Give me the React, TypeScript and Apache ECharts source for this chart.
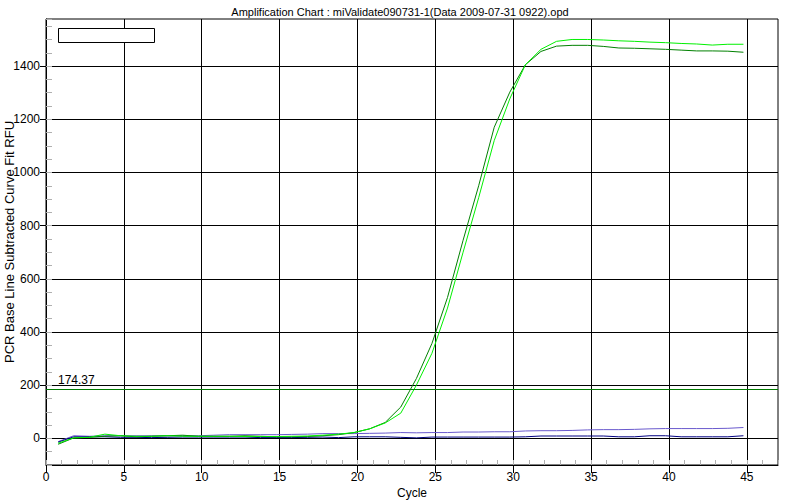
import React, { useEffect, useRef } from "react";
import * as echarts from "echarts";

const TITLE = "Amplification Chart : miValidate090731-1(Data 2009-07-31 0922).opd";
const X_NAME = "Cycle";
const Y_NAME = "PCR Base Line Subtracted Curve Fit RFU";

const CYCLES = [
  0.78, 1.78, 2.78, 3.78, 4.78, 5.78, 6.78, 7.78, 8.78, 9.78,
  10.78, 11.78, 12.78, 13.78, 14.78, 15.78, 16.78, 17.78, 18.78, 19.78,
  20.78, 21.78, 22.78, 23.78, 24.78, 25.78, 26.78, 27.78, 28.78, 29.78,
  30.78, 31.78, 32.78, 33.78, 34.78, 35.78, 36.78, 37.78, 38.78, 39.78,
  40.78, 41.78, 42.78, 43.78, 44.78,
];

const BRIGHT_GREEN = [
  -18, 2, 4, 16, 10, 8, 8, 10, 8, 8,
  8, 8, 7, 7, 7, 8, 9, 12, 16, 22,
  36, 58, 95, 200, 320, 490, 700, 905, 1120, 1277,
  1405, 1463, 1493, 1500, 1500, 1498, 1495, 1493, 1490, 1488,
  1485, 1483, 1479, 1482, 1482,
];

const DARK_GREEN = [
  -22, 2, 4, 8, 10, 6, 8, 10, 12, 8,
  8, 8, 10, 8, 6, 6, 7, 10, 14, 22,
  36, 60, 118, 225, 357, 530, 745, 950, 1170, 1302,
  1405, 1455, 1475, 1478, 1478, 1474, 1468, 1467, 1465, 1463,
  1460, 1457, 1457, 1456, 1452,
];

const BLUE = [
  -12, 10, 8, 10, 10, 10, 10, 10, 10, 10,
  12, 14, 14, 14, 14, 15, 16, 18, 18, 18,
  19, 20, 22, 21, 22, 22, 24, 24, 25, 25,
  28, 29, 29, 30, 32, 33, 33, 34, 36, 37,
  37, 37, 37, 38, 41,
];

const NAVY = [
  -14, 6, 6, 6, 4, 4, 3, 4, 5, 5,
  5, 5, 5, 3, 3, 3, 4, 5, 3, 6,
  6, 6, 4, 2, 5, 5, 5, 5, 5, 5,
  6, 9, 9, 9, 9, 9, 6, 6, 10, 10,
  6, 6, 6, 6, 10,
];

const X_TICKS = [0, 5, 10, 15, 20, 25, 30, 35, 40, 45];
const Y_TICKS = [0, 200, 400, 600, 800, 1000, 1200, 1400];
const X_MIN = 0;
const X_MAX = 47;
const Y_MIN = -100;
const Y_MAX = 1577;
const THRESHOLD_VALUE = 184;
const THRESHOLD_LABEL = "174.37";

const FONT = "Liberation Sans, Arial, sans-serif";

function pairs(ys: number[]) {
  return CYCLES.map((x, i) => [x, ys[i]]);
}

export default function App() {
  const ref = useRef<HTMLDivElement>(null);
  useEffect(() => {
    if (!ref.current) return;
    const chart = echarts.init(ref.current, undefined, { renderer: "svg" });
    const lineSeries = (name: string, data: number[], color: string, extra: any = {}) => ({
      name,
      type: "line",
      xAxisIndex: 0,
      yAxisIndex: 0,
      data: pairs(data),
      showSymbol: false,
      symbol: "none",
      lineStyle: { color, width: 1 },
      itemStyle: { color },
      z: 3,
      ...extra,
    });
    chart.setOption({
      animation: false,
      backgroundColor: "#fff",
      textStyle: { fontFamily: FONT },
      title: {
        text: TITLE,
        left: "center",
        top: 1,
        textStyle: { fontSize: 11, fontWeight: "normal", color: "#000", fontFamily: FONT },
      },
      grid: {
        left: 46,
        right: 22,
        top: 19,
        bottom: 35,
        containLabel: false,
        outerBoundsMode: "none",
        show: true,
        borderColor: "#000",
        borderWidth: 1,
        backgroundColor: "#fff",
      },
      xAxis: [
        {
          type: "value",
          min: X_MIN,
          max: X_MAX,
          interval: 5,
          position: "bottom",
          name: X_NAME,
          nameLocation: "middle",
          nameGap: 22,
          nameMoveOverlap: false,
          nameTextStyle: { fontSize: 12, color: "#000", fontFamily: FONT },
          axisLine: { show: true, onZero: false, lineStyle: { color: "#000" } },
          axisTick: { show: true, inside: false, length: 8, customValues: X_TICKS, lineStyle: { color: "#000" } },
          axisLabel: {
            customValues: X_TICKS,
            fontSize: 12,
            color: "#000",
            margin: 6,
            fontFamily: FONT,
            formatter: (v: number) => String(v),
          },
          splitLine: { show: true, lineStyle: { color: "#000", width: 1 } },
        },
        {
          type: "value",
          min: X_MIN,
          max: X_MAX,
          interval: 1,
          position: "bottom",
          axisLine: { show: false, onZero: false },
          axisTick: { show: true, inside: true, length: 5, lineStyle: { color: "#b0b0b0" } },
          axisLabel: { show: false },
          splitLine: { show: false },
        },
      ],
      yAxis: [
        {
          type: "value",
          min: Y_MIN,
          max: Y_MAX,
          position: "left",
          name: Y_NAME,
          nameLocation: "middle",
          nameGap: 30,
          nameMoveOverlap: false,
          nameRotate: 90,
          nameTextStyle: { fontSize: 13, color: "#000", fontFamily: FONT },
          axisLine: { show: true, onZero: false, lineStyle: { color: "#000" } },
          axisTick: { show: true, inside: false, length: 6, customValues: Y_TICKS, lineStyle: { color: "#000" } },
          axisLabel: {
            customValues: Y_TICKS,
            fontSize: 12,
            color: "#000",
            margin: 6,
            fontFamily: FONT,
            formatter: (v: number) => String(v),
          },
          splitLine: { show: true, lineStyle: { color: "#000", width: 1 } },
        },
        {
          type: "value",
          min: Y_MIN,
          max: Y_MAX,
          interval: 50,
          position: "left",
          axisLine: { show: false, onZero: false },
          axisTick: { show: true, inside: true, length: 6, lineStyle: { color: "#b0b0b0" } },
          axisLabel: { show: false },
          splitLine: { show: false },
        },
      ],
      graphic: [
        {
          type: "rect",
          left: 58,
          top: 28,
          shape: { width: 96, height: 14 },
          style: { fill: "#fff", stroke: "#000", lineWidth: 1 },
          z: 100,
        },
      ],
      series: [
        lineSeries("Blue", BLUE, "#6a5acd", {
          markLine: {
            silent: true,
            symbol: "none",
            lineStyle: { color: "#007a00", width: 1, type: "solid" },
            label: {
              show: true,
              position: "insideStartTop",
              formatter: THRESHOLD_LABEL,
              color: "#000",
              fontSize: 12,
              fontFamily: FONT,
              distance: [12, 3],
            },
            data: [{ yAxis: THRESHOLD_VALUE }],
          },
        }),
        lineSeries("Navy", NAVY, "#000080"),
        lineSeries("Dark green", DARK_GREEN, "#008000"),
        lineSeries("Bright green", BRIGHT_GREEN, "#00f000"),
      ],
    });
    return () => chart.dispose();
  }, []);
  return (
    <div
      ref={ref}
      style={{ position: "fixed", left: 0, top: 0, width: 800, height: 500 }}
    />
  );
}
